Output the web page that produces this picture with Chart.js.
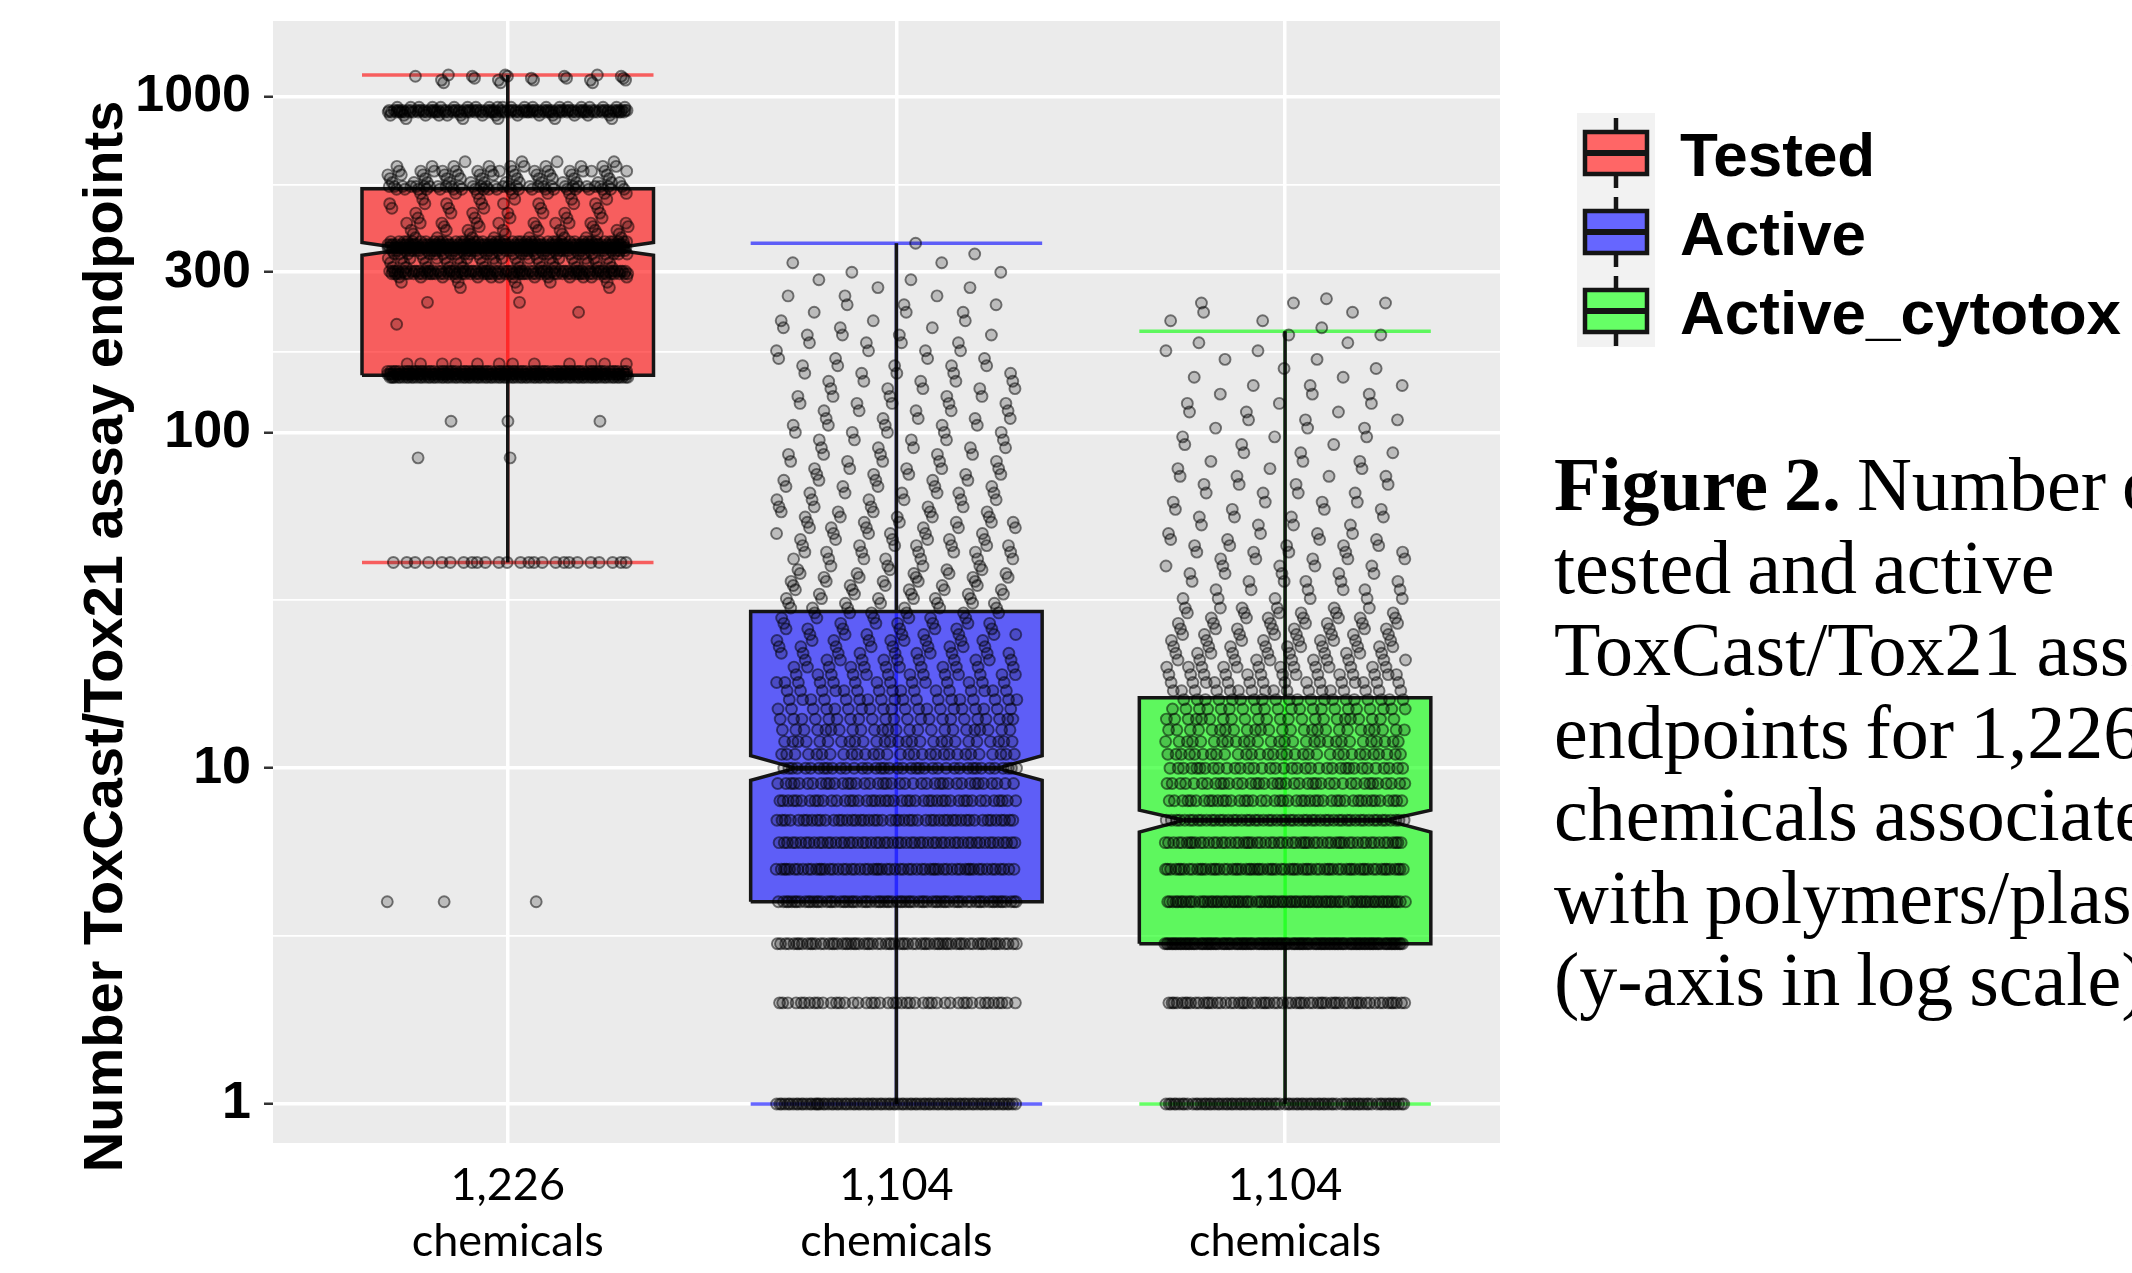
<!DOCTYPE html>
<html>
<head>
<meta charset="utf-8">
<script src="https://cdn.jsdelivr.net/npm/chart.js@4/dist/chart.umd.min.js"></script>
<style>
html,body{margin:0;padding:0;background:#fff;overflow:hidden;width:2132px;height:1273px;}
#wrap{position:relative;width:2132px;height:1273px;overflow:hidden;}
#c{position:absolute;left:0;top:0;}
#caption{position:absolute;left:1554px;top:443px;font-family:"Liberation Serif",serif;font-size:76px;line-height:82.5px;color:#000;white-space:nowrap;word-spacing:-3px;}
#caption b{font-weight:bold;}
</style>
</head>
<body>
<div id="wrap">
<canvas id="c" width="2132" height="1273"></canvas>
<div id="caption"><b>Figure 2.</b> Number of<br>tested and active<br>ToxCast/Tox21 assay<br>endpoints for 1,226<br>chemicals associated<br>with polymers/plastics<br>(y-axis in log scale).</div>
</div>
<script>
// ---------------- DATA ----------------
const categories = ['Tested', 'Active', 'Active_cytotox'];
const xTickLabels = [['1,226', 'chemicals'], ['1,104', 'chemicals'], ['1,104', 'chemicals']];
const yAxisTitle = 'Number ToxCast/Tox21 assay endpoints';
const yTickValues = [1, 10, 100, 300, 1000];

// box statistics
const whiskerLow  = [41, 1, 1];
const q1          = [148, 4, 3];
const notchLow    = [337, 9.2, 6.45];
const median      = [352, 10, 7];
const notchHigh   = [368, 10.9, 7.5];
const q3          = [532, 29.3, 16.2];
const whiskerHigh = [1160, 366, 200];

// jittered observations: [value, number of chemicals at that value]
const testedPoints = [
  [4,3],[41,25],[84,2],[108,3],
  [146,90],[149,120],[152,80],[160,12],
  [210,1],[228,1],[244,2],[270,3],[280,5],[290,15],[297,60],[302,70],[310,12],[320,14],[330,20],[340,30],[348,40],
  [355,110],[362,80],[370,45],[380,8],[390,6],[400,8],[410,5],[420,10],[435,5],[450,7],[465,5],[480,8],[495,5],[515,8],
  [530,22],[540,30],[555,14],[570,10],[585,12],[600,16],[620,10],[640,4],
  [860,5],[880,14],[900,62],[910,72],[930,22],
  [1100,3],[1120,5],[1135,4],[1150,5],[1160,3]
];
const activePoints = [
  [1,90],[2,45],[3,70],[4,75],[5,60],[6,55],[7,50],[8,45],[9,40],[10,40],
  [11,30],[12,27],[13,24],[14,22],[15,20],[16,18],[17,16],[18,14],[19,13],[20,12],[21,11],[22,10],[23,9],[24,9],[25,8],[26,7],[27,7],[28,6],[29,6],
  [30,6],[31,6],[32,6],[33,5],[34,5],[35,5],[36,5],[37,5],[38,5],[39,4],[40,4],
  [42,7],[44,7],[46,7],[48,6],[50,6],[52,6],[54,6],[56,5],[58,5],[60,5],
  [63,6],[66,6],[69,5],[72,5],[75,5],[78,5],[82,5],[86,5],[90,5],[95,5],[100,5],
  [105,5],[110,5],[116,5],[122,5],[128,5],[135,5],[142,5],[150,5],[158,5],
  [166,4],[175,4],[185,4],[195,4],[205,3],[215,3],[228,3],[240,3],[255,3],[270,2],[285,2],[300,2],[320,2],[340,1],[366,1]
];
const cytotoxPoints = [
  [1,85],[2,65],[3,135],[4,85],[5,70],[6,60],[7,55],
  [8,45],[9,40],[10,36],[11,32],[12,29],[13,26],[14,23],[15,21],[16,20],
  [17,17],[18,15],[19,14],[20,13],[21,11],[22,10],[23,10],[24,9],[25,8],[26,8],[27,7],[28,7],[29,6],[30,6],
  [32,6],[34,6],[36,6],[38,5],[40,5],[42,5],[44,5],[46,5],
  [48,4],[50,4],[53,4],[56,4],[59,4],[62,4],[66,4],[70,4],[74,4],
  [78,3],[82,3],[87,3],[92,3],[97,3],[103,3],[109,3],[115,3],[122,3],[130,3],[138,3],
  [146,2],[155,2],[165,2],[175,2],[185,2],[195,2],[205,1],[215,2],[228,2],[243,3],[250,1]
];
const seriesPoints = [testedPoints, activePoints, cytotoxPoints];

// ---------------- STYLE ----------------
const seriesFill = ['rgba(255,0,0,0.6)', 'rgba(0,0,255,0.6)', 'rgba(0,255,0,0.6)'];
const BOX_HALF = 0.375, NOTCH_HALF = 0.26, JITTER = 0.31;
const OUTLINE = '#151515';

// minor gridlines (geometric midpoints between major breaks)
const yMinor = [];
for (let i = 0; i < yTickValues.length - 1; i++) yMinor.push(Math.sqrt(yTickValues[i] * yTickValues[i + 1]));
const yAllTicks = yTickValues.concat(yMinor).sort((a, b) => a - b);

const datasets = [];
categories.forEach((name, i) => {
  const c = i + 1;
  const line = (data, color, width, order, extra) => Object.assign({
    type: 'line', data, borderColor: color, borderWidth: width, pointRadius: 0,
    fill: false, tension: 0, order, showLine: true
  }, extra || {});
  // coloured error bar (vertical + caps)
  datasets.push(line([{x: c, y: whiskerLow[i]}, {x: c, y: whiskerHigh[i]}], seriesFill[i], 3.5, 6));
  datasets.push(line([{x: c - BOX_HALF, y: whiskerLow[i]}, {x: c + BOX_HALF, y: whiskerLow[i]}], seriesFill[i], 3.5, 6));
  datasets.push(line([{x: c - BOX_HALF, y: whiskerHigh[i]}, {x: c + BOX_HALF, y: whiskerHigh[i]}], seriesFill[i], 3.5, 6));
  // notched box
  const poly = [
    {x: c - BOX_HALF, y: q1[i]}, {x: c + BOX_HALF, y: q1[i]},
    {x: c + BOX_HALF, y: notchLow[i]}, {x: c + NOTCH_HALF, y: median[i]}, {x: c + BOX_HALF, y: notchHigh[i]},
    {x: c + BOX_HALF, y: q3[i]}, {x: c - BOX_HALF, y: q3[i]},
    {x: c - BOX_HALF, y: notchHigh[i]}, {x: c - NOTCH_HALF, y: median[i]}, {x: c - BOX_HALF, y: notchLow[i]},
    {x: c - BOX_HALF, y: q1[i]}
  ];
  datasets.push(line(poly, OUTLINE, 3.5, 5, {fill: 'shape', backgroundColor: seriesFill[i], borderJoinStyle: 'miter'}));
  // black whiskers
  datasets.push(line([{x: c, y: q3[i]}, {x: c, y: whiskerHigh[i]}], OUTLINE, 3.5, 4));
  datasets.push(line([{x: c, y: whiskerLow[i]}, {x: c, y: q1[i]}], OUTLINE, 3.5, 4));
  // median
  datasets.push(line([{x: c - NOTCH_HALF, y: median[i]}, {x: c + NOTCH_HALF, y: median[i]}], OUTLINE, 5, 4));
  // jittered points (deterministic spread across the jitter width, shifted per value row)
  const pts = [];
  seriesPoints[i].forEach(([v, n], r) => {
    const shift = (r * 0.7548776662 + i * 0.17) % 1;
    for (let j = 0; j < n; j++) {
      const f = (j * 0.6180339887 + shift) % 1;
      pts.push({x: c + JITTER * (2 * f - 1), y: v});
    }
  });
  datasets.push({
    type: 'line', label: name, data: pts, showLine: false, order: 1,
    pointRadius: 5.5, pointBackgroundColor: 'rgba(0,0,0,0.2)',
    pointBorderColor: 'rgba(0,0,0,0.5)', pointBorderWidth: 1.9
  });
});

const panelBg = {
  id: 'panelBg',
  beforeDraw(chart) {
    const {ctx, chartArea: a} = chart;
    ctx.save();
    ctx.fillStyle = '#EBEBEB';
    ctx.fillRect(a.left, a.top, a.right - a.left, a.bottom - a.top);
    ctx.restore();
  }
};

const boxLegend = {
  id: 'boxLegend',
  afterDraw(chart) {
    const ctx = chart.ctx;
    ctx.save();
    ctx.fillStyle = '#F2F2F2';
    ctx.fillRect(1577, 113, 78, 234);
    categories.forEach((name, i) => {
      const cy = 153 + i * 79, cx = 1616, bl = 1585, bw = 62;
      ctx.strokeStyle = OUTLINE;
      ctx.lineWidth = 4.5;
      ctx.beginPath();
      ctx.moveTo(cx, cy - 35); ctx.lineTo(cx, cy - 21);
      ctx.moveTo(cx, cy + 21); ctx.lineTo(cx, cy + 35);
      ctx.stroke();
      ctx.fillStyle = '#fff';
      ctx.fillRect(bl, cy - 21, bw, 42);
      ctx.fillStyle = seriesFill[i];
      ctx.fillRect(bl, cy - 21, bw, 42);
      ctx.strokeRect(bl, cy - 21, bw, 42);
      ctx.lineWidth = 6;
      ctx.beginPath();
      ctx.moveTo(bl, cy); ctx.lineTo(bl + bw, cy);
      ctx.stroke();
      ctx.fillStyle = '#000';
      ctx.font = 'bold 62px "Liberation Sans", Arial, sans-serif';
      ctx.textBaseline = 'alphabetic';
      ctx.textAlign = 'left';
      ctx.fillText(name, 1680, cy + 23);
    });
    ctx.restore();
  }
};

new Chart(document.getElementById('c'), {
  type: 'line',
  data: {datasets},
  options: {
    responsive: false,
    animation: false,
    devicePixelRatio: 1,
    events: [],
    layout: {padding: {left: 0, top: 21, right: 632, bottom: 0}},
    plugins: {legend: {display: false}, tooltip: {enabled: false}},
    scales: {
      x: {
        type: 'linear', min: 0.396, max: 3.553, bounds: 'data',
        afterBuildTicks: s => { s.ticks = categories.map((_, i) => ({value: i + 1})); },
        afterFit: s => { s.height = 130; s.paddingLeft = 0; s.paddingRight = 0; },
        grid: {color: '#ffffff', lineWidth: 3.5, drawTicks: false},
        border: {display: false},
        ticks: {
          autoSkip: false, maxRotation: 0, padding: 14, color: '#000',
          font: {family: 'Lato, "Open Sans", sans-serif', size: 45, lineHeight: 1.25},
          callback: v => xTickLabels[Math.round(v) - 1]
        }
      },
      y: {
        type: 'logarithmic', min: 0.765, max: 1680, bounds: 'data',
        afterBuildTicks: s => { s.ticks = yAllTicks.map(v => ({value: v, major: yTickValues.includes(v)})); },
        afterFit: s => { s.width = 273; s.paddingTop = 0; s.paddingBottom = 0; },
        grid: {
          color: '#ffffff',
          lineWidth: ctx => (ctx.tick && yTickValues.includes(ctx.tick.value)) ? 3.5 : 1.8,
          drawTicks: true, tickLength: 9, tickWidth: 2.5,
          tickColor: ctx => (ctx.tick && yTickValues.includes(ctx.tick.value)) ? '#333333' : 'rgba(0,0,0,0)'
        },
        border: {display: false},
        ticks: {
          autoSkip: false, padding: 13, color: '#000',
          font: {family: '"Liberation Sans", Arial, sans-serif', size: 52, weight: 'bold'},
          callback: v => yTickValues.includes(v) ? String(v) : ''
        },
        title: {
          display: true, text: yAxisTitle + '       ', color: '#000',
          font: {family: '"Liberation Sans", Arial, sans-serif', size: 56, weight: 'bold'},
          padding: {top: 73, bottom: 0}
        }
      }
    }
  },
  plugins: [panelBg, boxLegend]
});
</script>
</body>
</html>
